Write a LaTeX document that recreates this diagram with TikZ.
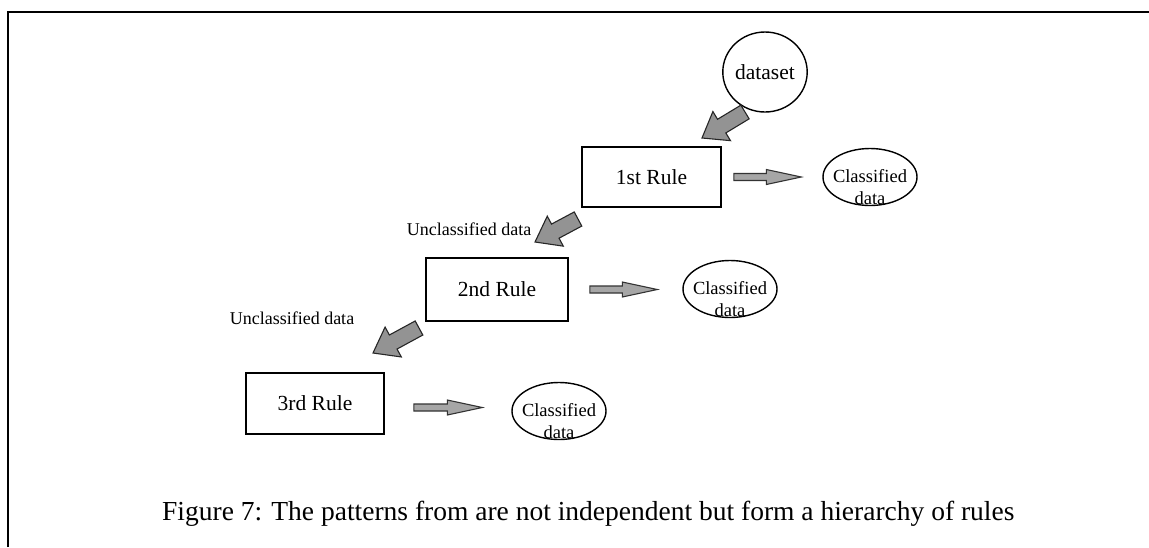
\documentclass[tikz,border=0pt]{standalone}
\usepackage{fontspec}
\setmainfont{Liberation Serif}
\usetikzlibrary{calc,shapes.geometric}

% Block arrow: #1 style, #2 tail, #3 tip, #4 shaft half-width, #5 head half-width, #6 head length
\newcommand\blockarrow[6]{%
  \coordinate (ba-h) at ($(#3)!#6!(#2)$);
  \draw[#1] ($(#2)!#4!90:(#3)$) -- ($(ba-h)!#4!90:(#3)$) -- ($(ba-h)!#5!90:(#3)$)
    -- (#3) -- ($(ba-h)!#5!-90:(#3)$) -- ($(ba-h)!#4!-90:(#3)$)
    -- ($(#2)!#4!-90:(#3)$) -- cycle;
}

\tikzset{
  rulebox/.style={draw, line width=1.6pt, inner sep=0pt, font=\fontsize{21.5}{24}\selectfont},
  databall/.style={draw, ellipse, line width=1.4pt, inner sep=0pt, minimum width=84pt, minimum height=80pt, font=\fontsize{21.5}{24}\selectfont},
  clsell/.style={draw, ellipse, line width=1.4pt, inner sep=0pt, minimum width=94pt, minimum height=57pt},
  clstext/.style={inner sep=0pt, align=center, font=\fontsize{18.5}{22}\selectfont},
  unlabel/.style={inner sep=0pt, font=\fontsize{18}{22}\selectfont},
  downarrow/.style={draw=black!85, line width=1.1pt, fill=gray!85, line join=miter},
  sidearrow/.style={draw=black!80, line width=1.1pt, fill=gray!70, line join=miter},
  frameline/.style={line width=1.8pt}
}

\begin{document}
\begin{tikzpicture}[x=1pt, y=-1pt]
  \useasboundingbox (0,0) rectangle (1149,547);

  % frame
  \draw[frameline] (8,547) -- (8,12) -- (1149,12);

  % data source
  \node[databall] (ds) at (765,72) {dataset};

  % rules
  \node[rulebox, minimum width=139pt, minimum height=60pt] (r1) at (651.5,177) {1st Rule};
  \node[rulebox, minimum width=142pt, minimum height=63pt] (r2) at (497,289.5) {2nd Rule};
  \node[rulebox, minimum width=138pt, minimum height=61pt] (r3) at (315,403.5) {3rd Rule};

  % classified outputs
  \node[clsell] (c1) at (870,177) {};
  \node[clstext] at ($(c1.center)+(0,10)$) {Classified\\data};
  \node[clsell] (c2) at (730,289) {};
  \node[clstext] at ($(c2.center)+(0,10)$) {Classified\\data};
  \node[clsell] (c3) at (559,411) {};
  \node[clstext] at ($(c3.center)+(0,10)$) {Classified\\data};

  % unclassified labels
  \node[unlabel] (u1) at (469,229) {Unclassified data};
  \node[unlabel] (u2) at (292,318) {Unclassified data};

  % arrow end points
  \coordinate (a1t) at (745,112);  \coordinate (a1h) at (702,138);
  \coordinate (a2t) at (578,219);  \coordinate (a2h) at (535,242);
  \coordinate (a3t) at (419,328);  \coordinate (a3h) at (373,353);
  \coordinate (s1t) at ($(r1.east)+(12,0)$); \coordinate (s1h) at ($(s1t -| c1.west)+(-21,0)$);
  \coordinate (s2t) at ($(r2.east)+(21,0)$); \coordinate (s2h) at ($(s2t -| c2.west)+(-25,0)$);
  \coordinate (s3t) at ($(r3.east)+(29,4)$); \coordinate (s3h) at ($(s3t -| c3.west)+(-29,0)$);

  % flow down the hierarchy
  \blockarrow{downarrow}{a1t}{a1h}{8pt}{17pt}{23pt}
  \blockarrow{downarrow}{a2t}{a2h}{8pt}{17pt}{23pt}
  \blockarrow{downarrow}{a3t}{a3h}{8pt}{17pt}{23pt}

  % classified outputs of each rule
  \blockarrow{sidearrow}{s1t}{s1h}{3.5pt}{7.5pt}{35pt}
  \blockarrow{sidearrow}{s2t}{s2h}{3.5pt}{7.5pt}{35pt}
  \blockarrow{sidearrow}{s3t}{s3h}{3.5pt}{7.5pt}{35pt}

  % caption
  \node[inner sep=0pt, anchor=base west, font=\fontsize{27.5}{32}\selectfont] (cap) at (162,520)
    {Figure 7: The patterns from are not independent but form a hierarchy of rules};
\end{tikzpicture}
\end{document}
